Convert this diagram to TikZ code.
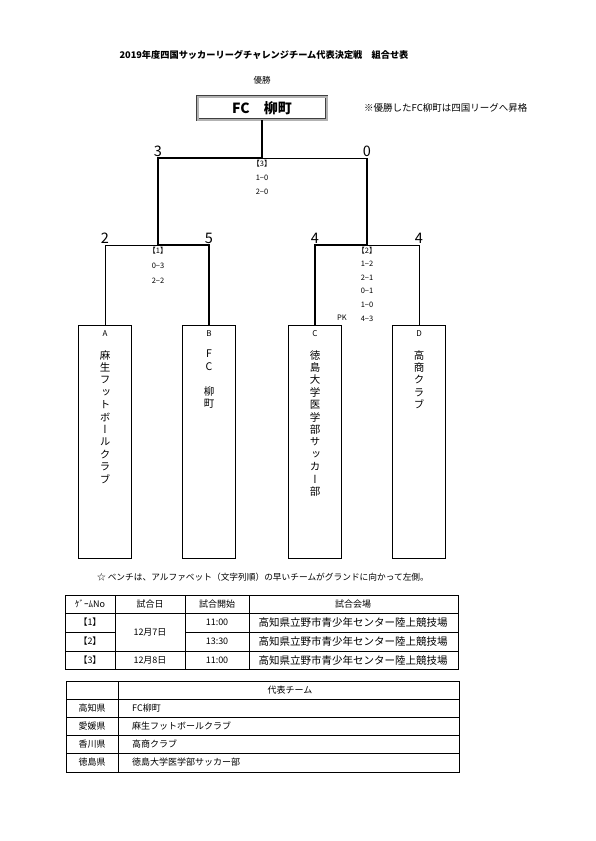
\documentclass[tikz,border=0pt]{standalone}
\usepackage{fontspec}
\setmainfont{Noto Sans CJK JP}
\newfontfamily\tatefont[RawFeature=+vert]{Noto Sans CJK JP}
\usetikzlibrary{positioning}

\begin{document}
\begin{tikzpicture}[
  x=1pt, y=-1pt,
  every node/.style={inner sep=0pt, align=center},
  team/.style={draw, line width=0.9pt, minimum width=53pt, minimum height=233pt},
  letter/.style={font=\fontsize{8}{8}\selectfont},
  teamname/.style={font=\tatefont\fontsize{10.5}{12.4}\selectfont},
  champbox/.style={draw=black!75, double=black!30, double distance=2pt, line width=0.7pt, minimum width=129pt, minimum height=23pt, font=\bfseries\fontsize{14}{14}\selectfont},
  score/.style={font=\fontsize{14.5}{14}\selectfont, anchor=south, yshift=1.5pt},
  result/.style={anchor=north},
  loser/.style={line width=0.6pt},
  winner/.style={line width=2.4pt},
  grid/.style={line width=0.8pt},
  cell/.style={font=\fontsize{9}{9}\selectfont},
  venue/.style={font=\fontsize{10.5}{11}\selectfont}
]
\useasboundingbox (0,0) rectangle (595,841);

% heading
\node[font=\bfseries\fontsize{9.2}{9}\selectfont] (title) at (264,55) {2019年度四国サッカーリーグチャレンジチーム代表決定戦\quad 組合せ表};
\node[font=\fontsize{8.5}{9}\selectfont] (yusho) at (262,80) {優勝};
\node[champbox] (champ) at (262,108) {FC\quad 柳町};
\node[font=\fontsize{9.5}{10}\selectfont, anchor=west] (promo) at (364,108) {※優勝したFC柳町は四国リーグへ昇格};

% teams
\node[team] (teamA) at (105,442) {};
\node[team] (teamB) at (209,442) {};
\node[team] (teamC) at (315,442) {};
\node[team] (teamD) at (419,442) {};

\node[letter, below=5pt of teamA.north] (letA) {A};
\node[letter, below=5pt of teamB.north] (letB) {B};
\node[letter, below=5pt of teamC.north] (letC) {C};
\node[letter, below=5pt of teamD.north] (letD) {D};

\node[teamname, below=25pt of teamA.north] (nameA) {麻\\生\\フ\\ッ\\ト\\ボ\\ー\\ル\\ク\\ラ\\ブ};
\node[teamname, below=25pt of teamB.north] (nameB) {F\\C\\[12.4pt]柳\\町};
\node[teamname, below=25pt of teamC.north] (nameC) {徳\\島\\大\\学\\医\\学\\部\\サ\\ッ\\カ\\ー\\部};
\node[teamname, below=25pt of teamD.north] (nameD) {高\\商\\ク\\ラ\\ブ};

% bracket
\coordinate (j1) at (158,245);
\coordinate (j2) at (367,245);
\coordinate (jf) at (262,158);

\draw[loser] (teamA.north) |- (j1);
\draw[loser] (teamD.north) |- (j2);
\draw[loser] (j2 |- jf) -- (jf);
\draw[winner] (teamB.north) |- (j1) |- (jf) -- (champ.south);
\draw[winner] (teamC.north) |- (j2) -- (j2 |- jf);

\node[score] (scA) at (teamA.north |- j1) {2};
\node[score] (scB) at (teamB.north |- j1) {5};
\node[score] (scC) at (teamC.north |- j2) {4};
\node[score] (scD) at (teamD.north |- j2) {4};
\node[score] (sc1) at (j1 |- jf) {3};
\node[score] (sc2) at (j2 |- jf) {0};

\node[result, font=\fontsize{7.5}{15}\selectfont, below=1.5pt of j1] (res1) {【1】\\0−3\\2−2};
\node[result, font=\fontsize{7.5}{13.6}\selectfont, below=1.5pt of j2] (res2) {【2】\\1−2\\2−1\\0−1\\1−0\\4−3};
\node[result, font=\fontsize{7.5}{14}\selectfont, below=1.5pt of jf] (res3) {【3】\\1−0\\2−0};
\node[font=\fontsize{7.5}{7}\selectfont] (pk) at (342,318) {PK};

\node[font=\fontsize{8.7}{9}\selectfont] (bench) at (263,577) {☆ ベンチは、アルファベット（文字列順）の早いチームがグランドに向かって左側。};

% schedule table
\draw[grid] (65,595) rectangle (458,669);
\draw[grid] (115,595) -- (115,669);
\draw[grid] (185,595) -- (185,669);
\draw[grid] (249,595) -- (249,669);
\draw[grid] (65,613) -- (458,613);
\draw[grid] (65,632) -- (115,632);
\draw[grid] (185,632) -- (458,632);
\draw[grid] (65,651) -- (458,651);

\node[cell] (hNo) at (90,604) {ｹﾞｰﾑNo};
\node[cell] (hDay) at (150,604) {試合日};
\node[cell] (hTime) at (217,604) {試合開始};
\node[cell] (hPlace) at (353,604) {試合会場};
\node[cell] (g1) at (90,622.5) {【1】};
\node[cell] (g2) at (90,641.5) {【2】};
\node[cell] (g3) at (90,660) {【3】};
\node[cell] (d1) at (150,632) {12月7日};
\node[cell] (d2) at (150,660) {12月8日};
\node[cell] (t1) at (217,622.5) {11:00};
\node[cell] (t2) at (217,641.5) {13:30};
\node[cell] (t3) at (217,660) {11:00};
\node[venue] (v1) at (353,622.5) {高知県立野市青少年センター陸上競技場};
\node[venue] (v2) at (353,641.5) {高知県立野市青少年センター陸上競技場};
\node[venue] (v3) at (353,660) {高知県立野市青少年センター陸上競技場};

% representative table
\draw[grid] (66,681) rectangle (459,772);
\draw[grid] (118,681) -- (118,772);
\draw[grid] (66,699) -- (459,699);
\draw[grid] (66,717) -- (459,717);
\draw[grid] (66,735) -- (459,735);
\draw[grid] (66,753) -- (459,753);

\node[cell] (hRep) at (290,690) {代表チーム};
\node[cell] (p1) at (92,708) {高知県};
\node[cell] (p2) at (92,726) {愛媛県};
\node[cell] (p3) at (92,744) {香川県};
\node[cell] (p4) at (92,762.5) {徳島県};
\node[cell, anchor=west] (r1) at (132,708) {FC柳町};
\node[cell, anchor=west] (r2) at (132,726) {麻生フットボールクラブ};
\node[cell, anchor=west] (r3) at (132,744) {高商クラブ};
\node[cell, anchor=west] (r4) at (132,762.5) {徳島大学医学部サッカー部};
\end{tikzpicture}
\end{document}
